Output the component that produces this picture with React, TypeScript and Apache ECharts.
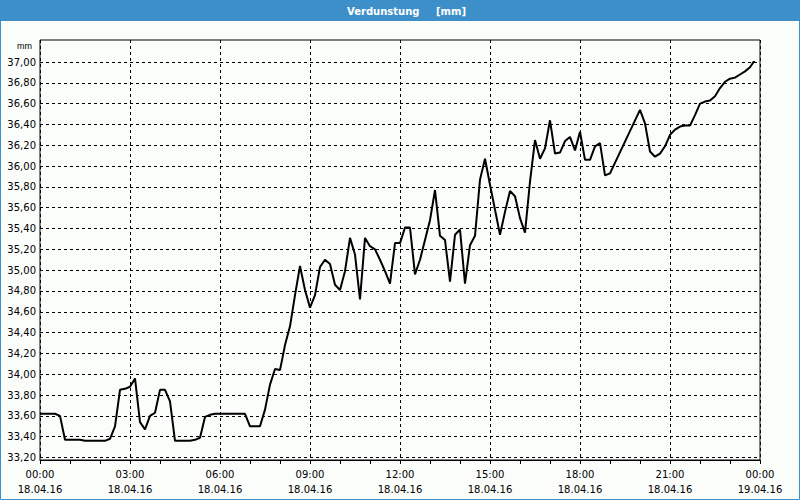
import React, { useEffect, useRef } from "react";
import * as echarts from "echarts";

const times = [
  "00:00", "00:10", "00:20", "00:30", "00:40", "00:50",
  "01:00", "01:10", "01:20", "01:30", "01:40", "01:50",
  "02:00", "02:10", "02:20", "02:30", "02:40", "02:50",
  "03:00", "03:10", "03:20", "03:30", "03:40", "03:50",
  "04:00", "04:10", "04:20", "04:30", "04:40", "04:50",
  "05:00", "05:10", "05:20", "05:30", "05:40", "05:50",
  "06:00", "06:10", "06:20", "06:30", "06:40", "06:50",
  "07:00", "07:10", "07:20", "07:30", "07:40", "07:50",
  "08:00", "08:10", "08:20", "08:30", "08:40", "08:50",
  "09:00", "09:10", "09:20", "09:30", "09:40", "09:50",
  "10:00", "10:10", "10:20", "10:30", "10:40", "10:50",
  "11:00", "11:10", "11:20", "11:30", "11:40", "11:50",
  "12:00", "12:10", "12:20", "12:30", "12:40", "12:50",
  "13:00", "13:10", "13:20", "13:30", "13:40", "13:50",
  "14:00", "14:10", "14:20", "14:30", "14:40", "14:50",
  "15:00", "15:10", "15:20", "15:30", "15:40", "15:50",
  "16:00", "16:10", "16:20", "16:30", "16:40", "16:50",
  "17:00", "17:10", "17:20", "17:30", "17:40", "17:50",
  "18:00", "18:10", "18:20", "18:30", "18:40", "18:50",
  "19:00", "20:00", "20:10", "20:20", "20:30", "20:40", "20:50",
  "21:00", "21:10", "21:20", "21:30", "21:40", "21:50",
  "22:00", "22:10", "22:20", "22:30", "22:40", "22:50",
  "23:00", "23:10", "23:20", "23:30", "23:40", "23:50",
];

const values = [
  33.62, 33.62, 33.62, 33.62, 33.6, 33.37,
  33.37, 33.37, 33.37, 33.36, 33.36, 33.36,
  33.36, 33.36, 33.38, 33.5, 33.85, 33.86,
  33.88, 33.96, 33.54, 33.47, 33.6, 33.63,
  33.85, 33.85, 33.74, 33.36, 33.36, 33.36,
  33.36, 33.37, 33.39, 33.59, 33.61, 33.62,
  33.62, 33.62, 33.62, 33.62, 33.62, 33.62,
  33.5, 33.5, 33.5, 33.66, 33.9, 34.05,
  34.04, 34.28, 34.46, 34.76, 35.04, 34.81,
  34.64, 34.76, 35.03, 35.1, 35.06, 34.86,
  34.81, 34.99, 35.31, 35.15, 34.72, 35.31,
  35.23, 35.2, 35.1, 34.99, 34.87, 35.26,
  35.26, 35.41, 35.41, 34.96, 35.1, 35.29,
  35.48, 35.77, 35.33, 35.29, 34.89, 35.34,
  35.39, 34.87, 35.24, 35.33, 35.87, 36.07,
  35.82, 35.58, 35.34, 35.56, 35.76, 35.71,
  35.5, 35.36, 35.85, 36.25, 36.07, 36.17,
  36.44, 36.12, 36.13, 36.24, 36.28, 36.15,
  36.33, 36.06, 36.06, 36.19, 36.22, 35.91,
  35.93, 36.54, 36.41, 36.14, 36.09, 36.12, 36.19,
  36.3, 36.35, 36.38, 36.39, 36.39, 36.49,
  36.6, 36.62, 36.63, 36.67, 36.75, 36.81,
  36.84, 36.85, 36.88, 36.91, 36.95, 37.02,
];

const xLabelTimes = ["00:00", "03:00", "06:00", "09:00", "12:00", "15:00", "18:00", "21:00", "00:00"];
const xLabelDates = ["18.04.16", "18.04.16", "18.04.16", "18.04.16", "18.04.16", "18.04.16", "18.04.16", "18.04.16", "19.04.16"];

const titleMain = "Verdunstung";
const titleUnit = "[mm]";
const yUnit = "mm";

const BLUE = "#3c8fc8";
const BG = "#fbfdfb";
const FONT = "DejaVu Sans";

function toMinutes(t: string): number {
  const [h, m] = t.split(":").map(Number);
  return h * 60 + m;
}

export default function App() {
  const ref = useRef<HTMLDivElement>(null);

  useEffect(() => {
    if (!ref.current) return;
    const chart = echarts.init(ref.current, null, { renderer: "svg" });
    const data = times.map((t, i) => [toMinutes(t), values[i]]);

    chart.setOption({
      animation: false,
      backgroundColor: BG,
      graphic: [
        {
          type: "rect",
          silent: true,
          shape: { x: 0, y: 0, width: 800, height: 21 },
          style: { fill: BLUE },
        },
        {
          type: "rect",
          silent: true,
          shape: { x: 0.5, y: 0.5, width: 799, height: 499 },
          style: { fill: "none", stroke: BLUE, lineWidth: 1 },
        },
        {
          type: "text",
          silent: true,
          x: 347,
          y: 11,
          style: {
            text: titleMain,
            fill: "#ffffff",
            font: `bold 10px "${FONT}"`,
            align: "left",
            verticalAlign: "middle",
          },
        },
        {
          type: "text",
          silent: true,
          x: 466,
          y: 11,
          style: {
            text: titleUnit,
            fill: "#ffffff",
            font: `bold 10px "${FONT}"`,
            align: "right",
            verticalAlign: "middle",
          },
        },
      ],
      grid: [
        { left: 40, right: 40, top: 40, bottom: 40, show: true, borderColor: "#000", borderWidth: 1, backgroundColor: "transparent" },
        { left: 40, right: 40, top: 62, bottom: 42.5 },
      ],
      xAxis: [
        {
          gridIndex: 0,
          type: "value",
          min: 0,
          max: 1440,
          interval: 180,
          axisLine: { show: true, lineStyle: { color: "#000", width: 1 } },
          axisTick: { show: true, length: 4, lineStyle: { color: "#000" } },
          minorTick: { show: true, splitNumber: 3, length: 4, lineStyle: { color: "#000" } },
          splitLine: { show: true, lineStyle: { color: "#000", type: [3, 3], width: 1 } },
          axisLabel: {
            color: "#000",
            fontFamily: FONT,
            fontSize: 10,
            lineHeight: 15,
            margin: 7,
            formatter: (v: number) => {
              const i = Math.round(v / 180);
              return `${xLabelTimes[i]}\n${xLabelDates[i]}`;
            },
          },
        },
        { gridIndex: 1, type: "value", min: 0, max: 1440, show: false },
      ],
      yAxis: [
        { gridIndex: 0, type: "value", min: 0, max: 1, show: false },
        {
          gridIndex: 1,
          type: "value",
          min: 33.2,
          max: 37.0,
          interval: 0.2,
          name: yUnit,
          nameLocation: "end",
          nameGap: 16,
          nameTextStyle: {
            color: "#000",
            fontFamily: "Liberation Sans",
            fontSize: 9,
            align: "right",
            verticalAlign: "middle",
            padding: [0, 8, 0, 0],
          },
          axisLine: { show: false },
          axisTick: { show: false },
          splitLine: { show: true, lineStyle: { color: "#000", type: [3, 3], width: 1 } },
          axisLabel: {
            color: "#000",
            fontFamily: FONT,
            fontSize: 10,
            margin: 4,
            formatter: (v: number) => v.toFixed(2).replace(".", ","),
          },
        },
      ],
      series: [
        {
          type: "line",
          xAxisIndex: 1,
          yAxisIndex: 1,
          data,
          symbol: "none",
          showSymbol: false,
          lineStyle: { color: "#000", width: 2 },
          z: 5,
        },
      ],
    });

    return () => chart.dispose();
  }, []);

  return (
    <div
      ref={ref}
      style={{ position: "absolute", left: 0, top: 0, width: 800, height: 500 }}
    />
  );
}
